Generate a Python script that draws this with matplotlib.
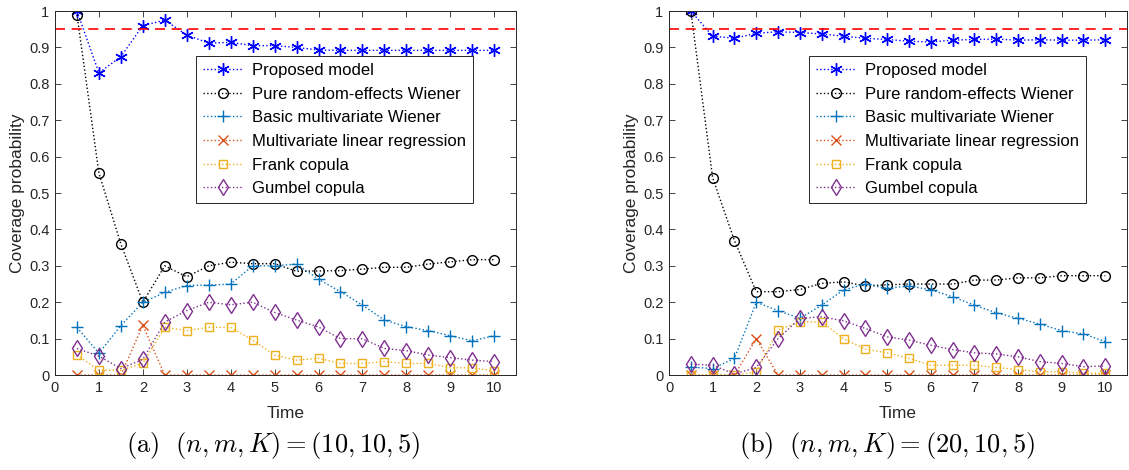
import matplotlib
matplotlib.use("Agg")
import matplotlib.pyplot as plt

plt.rcParams["font.family"] = ["Liberation Sans", "DejaVu Sans"]
plt.rcParams["mathtext.fontset"] = "cm"

t = [0.5, 1, 1.5, 2, 2.5, 3, 3.5, 4, 4.5, 5, 5.5, 6, 6.5, 7, 7.5, 8, 8.5, 9, 9.5, 10]

labels = ["Proposed model", "Pure random-effects Wiener", "Basic multivariate Wiener",
          "Multivariate linear regression", "Frank copula", "Gumbel copula"]

# (a) n,m,K = 10,10,5
a_proposed = [1.0, 0.83, 0.875, 0.96, 0.975, 0.934, 0.912, 0.914, 0.905, 0.905,
              0.9, 0.893, 0.892, 0.892, 0.892, 0.892, 0.892, 0.892, 0.892, 0.892]
a_pure = [0.99, 0.555, 0.36, 0.2, 0.3, 0.27, 0.3, 0.31, 0.306, 0.306,
          0.285, 0.286, 0.287, 0.291, 0.296, 0.296, 0.305, 0.311, 0.317, 0.317]
a_basic = [0.131, 0.06, 0.136, 0.2, 0.227, 0.246, 0.247, 0.25, 0.3, 0.3,
           0.305, 0.263, 0.229, 0.192, 0.151, 0.133, 0.122, 0.108, 0.094, 0.108]
a_linear = [0, 0, 0, 0.137, 0, 0, 0, 0, 0, 0, 0, 0, 0, 0, 0, 0, 0, 0, 0, 0]
a_frank = [0.055, 0.013, 0.013, 0.032, 0.131, 0.122, 0.131, 0.131, 0.096, 0.055,
           0.041, 0.046, 0.032, 0.032, 0.037, 0.032, 0.032, 0.02, 0.02, 0.011]
a_gumbel = [0.073, 0.052, 0.018, 0.043, 0.146, 0.177, 0.2, 0.193, 0.2, 0.172,
            0.151, 0.132, 0.1, 0.1, 0.073, 0.067, 0.055, 0.048, 0.041, 0.037]

# (b) n,m,K = 20,10,5
b_proposed = [1.0, 0.931, 0.925, 0.939, 0.943, 0.941, 0.937, 0.931, 0.925, 0.922,
              0.917, 0.915, 0.92, 0.922, 0.923, 0.92, 0.921, 0.92, 0.92, 0.921]
b_pure = [1.0, 0.542, 0.369, 0.229, 0.229, 0.235, 0.252, 0.256, 0.245, 0.248,
          0.25, 0.25, 0.25, 0.261, 0.261, 0.267, 0.267, 0.273, 0.273, 0.273]
b_basic = [0.022, 0.018, 0.046, 0.2, 0.177, 0.156, 0.192, 0.234, 0.25, 0.238,
           0.245, 0.234, 0.215, 0.192, 0.171, 0.156, 0.14, 0.122, 0.113, 0.092]
b_linear = [0, 0, 0, 0.1, 0, 0, 0, 0, 0, 0, 0, 0, 0, 0, 0, 0, 0, 0, 0, 0]
b_frank = [0, 0, 0, 0.008, 0.124, 0.146, 0.146, 0.1, 0.071, 0.061,
           0.046, 0.027, 0.027, 0.027, 0.021, 0.015, 0.009, 0.009, 0.005, 0.005]
b_gumbel = [0.03, 0.027, 0.003, 0.021, 0.1, 0.156, 0.16, 0.149, 0.128, 0.105,
            0.096, 0.082, 0.07, 0.061, 0.058, 0.05, 0.037, 0.032, 0.023, 0.025]

target = 0.95
captions = [r"$\mathrm{(a)}\ \ (n,m,K)=(10,10,5)$", r"$\mathrm{(b)}\ \ (n,m,K)=(20,10,5)$"]

styles = [
    dict(color=(0, 0, 1), marker=(6, 2, 0), ms=9),
    dict(color="k", marker="o", ms=7, mfc="none"),
    dict(color=(0, 0.447, 0.741), marker="+", ms=9),
    dict(color=(0.85, 0.325, 0.098), marker="x", ms=6.5),
    dict(color=(0.929, 0.694, 0.125), marker="s", ms=6, mfc="none"),
    dict(color=(0.494, 0.184, 0.556), marker="d", ms=8, mfc="none"),
]

fig = plt.figure(figsize=(11.29, 4.70), dpi=100)
ax1 = fig.add_axes([0.0487, 0.202, 0.4085, 0.7745])
ax2 = fig.add_axes([0.5926, 0.202, 0.4057, 0.7745])

panels = [
    (ax1, [a_proposed, a_pure, a_basic, a_linear, a_frank, a_gumbel]),
    (ax2, [b_proposed, b_pure, b_basic, b_linear, b_frank, b_gumbel]),
]

gray = (0.15, 0.15, 0.15)
for ax, series in panels:
    for ys, lab, st in zip(series, labels, styles):
        ax.plot(t, ys, ls=":", lw=1.0, mew=1.0, label=lab, **st)
    ax.axhline(target, color="r", ls=(0, (6, 4)), lw=1.2)
    ax.set_xlim(0, 10.5)
    ax.set_ylim(0, 1)
    ax.set_xticks(range(0, 11))
    ax.set_yticks([i / 10 for i in range(11)])
    ax.set_yticklabels(["0"] + [f"{i / 10:g}" for i in range(1, 10)] + ["1"])
    ax.tick_params(direction="in", top=True, right=True, length=4, width=0.6,
                   labelsize=10.5, colors=gray, pad=4)
    for sp in ax.spines.values():
        sp.set_color(gray)
        sp.set_linewidth(0.7)
    ax.set_xlabel("Time", fontsize=12.5, color=gray, labelpad=8)
    ax.set_ylabel("Coverage probability", fontsize=12.5, color=gray, labelpad=3)
    leg = ax.legend(loc="upper left", bbox_to_anchor=(0.306, 0.876), fontsize=12,
                    handlelength=2.4, labelspacing=0.52, borderpad=0.4,
                    handletextpad=0.55, fancybox=False, framealpha=1,
                    edgecolor=gray, borderaxespad=0)
    leg.get_frame().set_linewidth(0.7)

fig.text(0.242, 0.052, captions[0], ha="center", va="center", fontsize=19)
fig.text(0.786, 0.052, captions[1], ha="center", va="center", fontsize=19)

fig.savefig("out.png", dpi=100)
